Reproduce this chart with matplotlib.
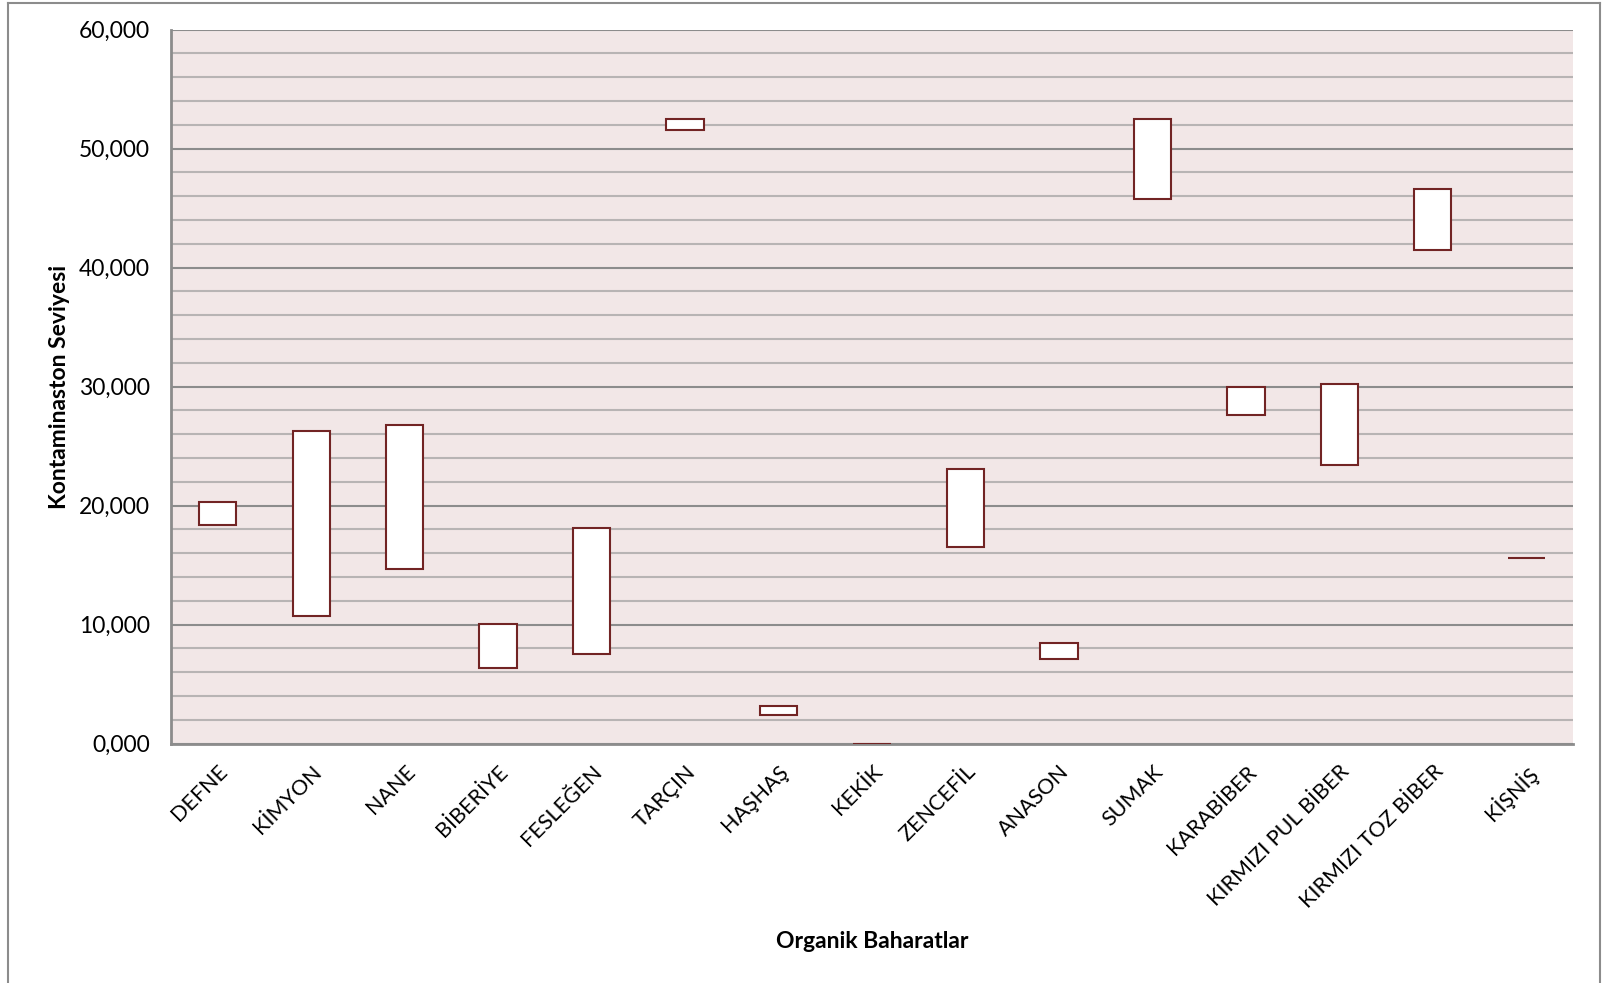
import matplotlib
matplotlib.use("Agg")
import matplotlib.pyplot as plt
from matplotlib.ticker import FuncFormatter, MultipleLocator
from matplotlib.lines import Line2D
import numpy as np

plt.rcParams['font.family'] = ['Lato', 'Noto Sans', 'DejaVu Sans']

categories = ["DEFNE", "KİMYON", "NANE", "BİBERİYE", "FESLEĞEN", "TARÇIN", "HAŞHAŞ",
              "KEKİK", "ZENCEFİL", "ANASON", "SUMAK", "KARABİBER",
              "KIRMIZI PUL BİBER", "KIRMIZI TOZ BİBER", "KİŞNİŞ"]
low_values = [18.40, 10.72, 14.68, 6.32, 7.50, 51.58, 2.40, 0.00, 16.50, 7.12,
              45.80, 27.63, 23.40, 41.50, 15.63]
high_values = [20.34, 26.28, 26.79, 10.02, 18.15, 52.52, 3.15, 0.00, 23.04, 8.42,
               52.52, 29.98, 30.26, 46.64, 15.63]

W, H = 1604, 983
fig = plt.figure(figsize=(W / 100, H / 100), dpi=100)
ax = fig.add_axes([171 / W, 1 - 743.5 / H, (1573 - 171) / W, (743.5 - 29.7) / H])

ax.set_facecolor("#F2E7E7")
x = np.arange(len(categories))
low = np.array(low_values)
high = np.array(high_values)
ax.bar(x, high - low, bottom=low, width=0.4, color="white",
       edgecolor="#722424", linewidth=1.5, zorder=3)

ax.set_xlim(-0.5, len(categories) - 0.5)
ax.set_ylim(0, 60)
ax.yaxis.set_major_locator(MultipleLocator(10))
ax.yaxis.set_minor_locator(MultipleLocator(2))
ax.yaxis.set_major_formatter(FuncFormatter(lambda v, p: f"{v:.3f}".replace(".", ",")))
ax.grid(which="major", axis="y", color="#8C8C8C", linewidth=1.5, zorder=1)
ax.grid(which="minor", axis="y", color="#B8B4B4", linewidth=1.5, zorder=1)
ax.tick_params(axis="y", which="both", length=0, labelsize=16.5, pad=15)
ax.tick_params(axis="x", length=0, pad=13)

ax.set_xticks(x)
ax.set_xticklabels(categories, rotation=45, ha="right", rotation_mode="anchor",
                   fontsize=15.5)

for side in ("top", "right"):
    ax.spines[side].set_visible(False)
for side in ("left", "bottom"):
    ax.spines[side].set_color("#8C8C8C")
    ax.spines[side].set_linewidth(2)

fig.text(59 / W, 1 - 387 / H, "Kontaminaston Seviyesi", rotation=90,
         ha="center", va="center", fontsize=16.5, fontweight="bold")
fig.text(872 / W, 1 - 941 / H, "Organik Baharatlar",
         ha="center", va="center", fontsize=16.5, fontweight="bold")

# outer chart border
for xs, ys in [((8 / W, 8 / W), (0, 1 - 3 / H)),
               ((8 / W, 1600 / W), (1 - 3 / H, 1 - 3 / H)),
               ((1600 / W, 1600 / W), (0, 1 - 3 / H))]:
    fig.add_artist(Line2D(xs, ys, color="#8C8C8C", linewidth=1.5))

fig.savefig("out.png", dpi=100, facecolor="white")
